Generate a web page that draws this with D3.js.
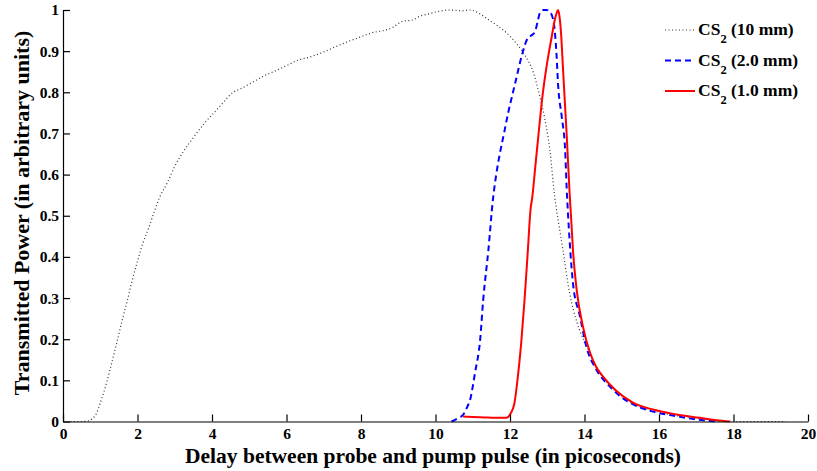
<!DOCTYPE html>
<html><head><meta charset="utf-8">
<script src="https://cdn.jsdelivr.net/npm/d3@7"></script>
<style>
html,body{margin:0;padding:0;background:#fff;}
text{font-family:"Liberation Serif","Times New Roman",serif;font-weight:bold;fill:#000;}
</style></head>
<body><svg id="c" width="817" height="471"></svg>
<script>
const xTicks = [0,2,4,6,8,10,12,14,16,18,20];
const yTicks = [0,0.1,0.2,0.3,0.4,0.5,0.6,0.7,0.8,0.9,1];
const yTickLabels = ["0","0.1","0.2","0.3","0.4","0.5","0.6","0.7","0.8","0.9","1"];
const seriesNames = ["10 mm","2.0 mm","1.0 mm"];
const cs10 = [[0.2,0],[0.5,0],[0.7,0.002],[0.8,0.008],[0.9,0.02],[1.0,0.045],[1.17,0.094],[1.3,0.14],[1.44,0.19],[1.6,0.25],[1.71,0.288],[1.85,0.34],[2.0,0.39],[2.15,0.435],[2.3,0.47],[2.45,0.51],[2.6,0.546],[2.8,0.58],[3.0,0.62],[3.22,0.654],[3.5,0.69],[3.8,0.725],[4.1,0.755],[4.3,0.775],[4.54,0.798],[4.8,0.81],[5.1,0.825],[5.4,0.84],[5.7,0.852],[6.01,0.865],[6.3,0.878],[6.6,0.885],[7.0,0.898],[7.3,0.91],[7.7,0.925],[8.0,0.935],[8.3,0.945],[8.6,0.95],[8.86,0.958],[9.1,0.972],[9.4,0.976],[9.58,0.985],[9.8,0.99],[10.1,0.997],[10.4,1.0],[10.7,0.998],[10.93,1.0],[11.2,0.99],[11.4,0.978],[11.64,0.963],[11.9,0.945],[12.17,0.919],[12.4,0.89],[12.62,0.85],[12.8,0.79],[12.94,0.733],[13.07,0.66],[13.2,0.546],[13.31,0.48],[13.42,0.417],[13.6,0.312],[13.8,0.24],[14.02,0.19],[14.23,0.148],[14.5,0.107],[14.86,0.071],[15.3,0.043],[15.84,0.026],[16.47,0.014],[17.1,0.007],[17.55,0.002],[18,0],[19.4,0]];
const cs20 = [[10.43,0],[10.6,0.008],[10.74,0.016],[10.85,0.035],[10.93,0.053],[11.06,0.118],[11.2,0.2],[11.28,0.295],[11.42,0.417],[11.54,0.538],[11.63,0.6],[11.73,0.652],[11.85,0.705],[11.95,0.75],[12.08,0.8],[12.18,0.838],[12.31,0.887],[12.48,0.932],[12.6,0.94],[12.67,0.947],[12.75,0.975],[12.8,0.992],[12.9,1.0],[12.98,1.0],[13.05,0.997],[13.12,0.988],[13.2,0.951],[13.25,0.89],[13.29,0.82],[13.39,0.74],[13.48,0.66],[13.52,0.57],[13.56,0.5],[13.6,0.44],[13.69,0.337],[13.88,0.255],[14.05,0.182],[14.32,0.126],[14.68,0.085],[14.95,0.062],[15.3,0.042],[15.84,0.024],[16.47,0.013],[17.0,0.005],[17.6,0]];
const cs10mm1 = [[10.74,0.012],[11.0,0.011],[11.3,0.01],[11.6,0.009],[11.9,0.009],[12.02,0.02],[12.12,0.045],[12.2,0.1],[12.3,0.19],[12.39,0.295],[12.48,0.417],[12.55,0.514],[12.6,0.546],[12.68,0.62],[12.75,0.684],[12.88,0.797],[12.98,0.862],[13.05,0.9],[13.12,0.935],[13.2,0.975],[13.25,0.992],[13.29,1.0],[13.34,0.976],[13.38,0.93],[13.42,0.862],[13.47,0.78],[13.52,0.70],[13.6,0.555],[13.65,0.48],[13.69,0.417],[13.79,0.32],[13.96,0.23],[14.15,0.167],[14.3,0.135],[14.5,0.109],[14.86,0.074],[15.3,0.046],[15.84,0.029],[16.47,0.017],[17.1,0.009],[17.55,0.003],[17.9,0]];

const svg = d3.select("#c");
const x = d3.scaleLinear().domain([0,20]).range([63,808]);
const y = d3.scaleLinear().domain([0,1]).range([421.5,10]);

const styles = [
  {data:cs10, stroke:"#333", width:1.2, dash:"1,2.5"},
  {data:cs20, stroke:"#0000ff", width:2, dash:"6,4"},
  {data:cs10mm1, stroke:"#ff0000", width:2, dash:null}
];
const line = d3.line().x(d=>x(d[0])).y(d=>y(d[1])).curve(d3.curveMonotoneX);
styles.forEach(s=>{
  svg.append("path").attr("d",line(s.data)).attr("fill","none")
    .attr("stroke",s.stroke).attr("stroke-width",s.width)
    .attr("stroke-dasharray",s.dash);
});

const xAxis = svg.append("g").attr("transform",`translate(0,${y(0)})`)
  .call(d3.axisBottom(x).tickValues(xTicks).tickSizeInner(-7).tickSizeOuter(0).tickPadding(6.5));
const yAxis = svg.append("g").attr("transform",`translate(${x(0)},0)`)
  .call(d3.axisLeft(y).tickValues(yTicks).tickFormat((d,i)=>yTickLabels[i]).tickSizeInner(-7).tickSizeOuter(0).tickPadding(4));
[xAxis,yAxis].forEach(g=>{
  g.selectAll("text").style("font-family",'"Liberation Serif","Times New Roman",serif').style("font-weight","bold").style("font-size","15.5px").attr("fill","#000");
  g.selectAll("line,path").attr("stroke","#000").attr("stroke-width",1.2);
});

svg.append("text").attr("x",433).attr("y",463).attr("text-anchor","middle")
  .style("font-size","21.5px").text("Delay between probe and pump pulse (in picoseconds)");
svg.append("text").attr("transform","translate(29,213) rotate(-90)").attr("text-anchor","middle")
  .style("font-size","22px").text("Transmitted Power (in arbitrary units)");

const leg = svg.append("g");
styles.forEach((s,i)=>{
  const ly = 30 + i*30.5;
  leg.append("line").attr("x1",665).attr("x2",695).attr("y1",ly).attr("y2",ly)
    .attr("stroke",s.stroke).attr("stroke-width",s.width).attr("stroke-dasharray",s.dash);
  const t = leg.append("text").attr("x",698).attr("y",ly+5).style("font-size","17.5px");
  t.append("tspan").text("CS");
  t.append("tspan").attr("dy",8).style("font-size","12.5px").text("2");
  t.append("tspan").attr("dy",-8).text(" (" + seriesNames[i] + ")");
});
</script></body></html>
